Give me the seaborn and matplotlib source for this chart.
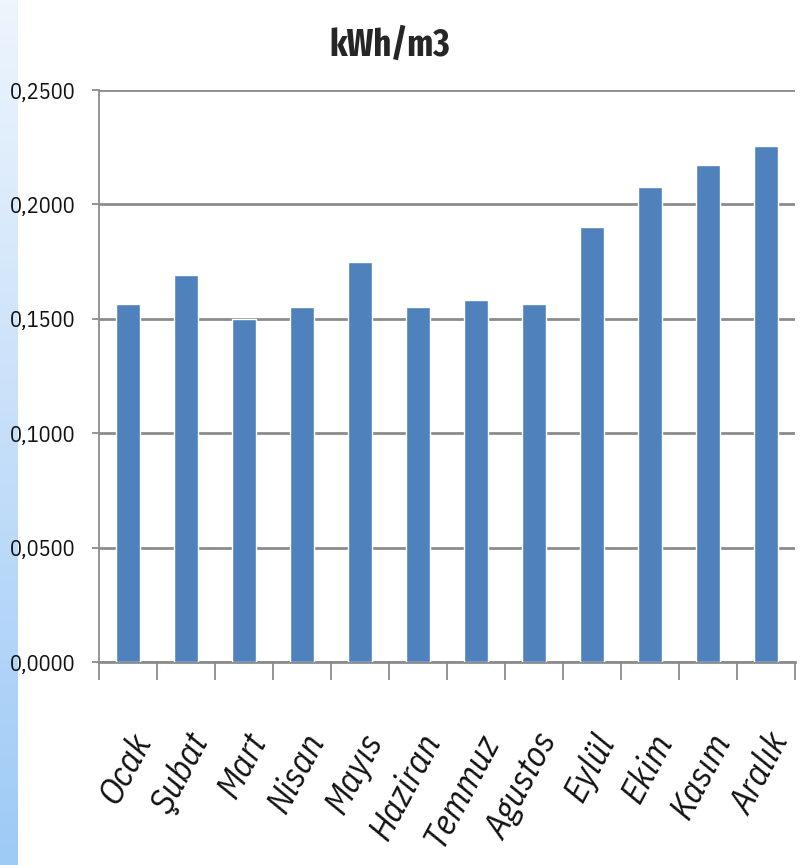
import numpy as np
import pandas as pd
import matplotlib
matplotlib.use("Agg")
import matplotlib.pyplot as plt
from matplotlib.ticker import FixedLocator, FuncFormatter
import seaborn as sns

months = ["Ocak", "Şubat", "Mart", "Nisan", "Mayıs", "Haziran",
          "Temmuz", "Agustos", "Eylül", "Ekim", "Kasım", "Aralık"]
kwh_per_m3 = [0.1565, 0.1691, 0.1499, 0.1552, 0.1748, 0.1552,
              0.1582, 0.1565, 0.1901, 0.2076, 0.2172, 0.2255]
y_ticks = [0.0, 0.05, 0.10, 0.15, 0.20, 0.25]

sns.set_style("white")
plt.rcParams['font.family'] = ['IBM Plex Sans Condensed', 'DejaVu Sans']

df = pd.DataFrame({"month": months, "value": kwh_per_m3})

fig = plt.figure(figsize=(8.02, 8.65), dpi=100)

# light blue strip on the left edge
strip = fig.add_axes([0, 0, 18 / 802, 1])
grad = np.linspace(0, 1, 256).reshape(-1, 1)
cmap = matplotlib.colors.LinearSegmentedColormap.from_list("strip", ["#eef5fd", "#9ecaf6"])
strip.imshow(grad, aspect="auto", cmap=cmap)
strip.set_axis_off()

ax = fig.add_axes([99 / 802, 1 - 662 / 865, 696 / 802, 572 / 865])
sns.barplot(data=df, x="month", y="value", color="#4f81bd", width=0.4,
            saturation=1, ax=ax, zorder=3)

ax.set_ylim(0, 0.25)
ax.set_xlim(-0.5, len(months) - 0.5)
ax.set_yticks(y_ticks)
ax.yaxis.set_major_formatter(FuncFormatter(lambda v, p: f"{v:.4f}".replace(".", ",")))
ax.yaxis.grid(True, color="#8c8c8c", linewidth=2, zorder=0)
ax.set_axisbelow(True)

for s in ["top", "right"]:
    ax.spines[s].set_visible(False)
ax.spines["left"].set_color("#8c8c8c")
ax.spines["left"].set_linewidth(1.3)
ax.spines["bottom"].set_color("#8c8c8c")
ax.spines["bottom"].set_linewidth(2)

ax.tick_params(axis="y", which="major", left=True, length=5, width=1.3,
               color="#8c8c8c", labelsize=16, pad=12, labelcolor="#111111")
ax.tick_params(axis="x", which="major", bottom=False, labelsize=26, pad=44,
               labelcolor="#111111")
ax.xaxis.set_minor_locator(FixedLocator(np.arange(-0.5, len(months), 1)))
ax.tick_params(axis="x", which="minor", bottom=True, length=13, width=1.3, color="#8c8c8c")

for lab in ax.get_xticklabels():
    lab.set_rotation(62)
    lab.set_ha("right")
    lab.set_rotation_mode("anchor")
    lab.set_style("italic")

ax.set_xlabel("")
ax.set_ylabel("")
fig.text(390 / 802, 1 - 45 / 865, "kWh/m3", fontsize=27, fontweight="bold",
         family=["Fira Sans Extra Condensed", "DejaVu Sans"],
         ha="center", va="center")

fig.savefig("out.png", dpi=100)
